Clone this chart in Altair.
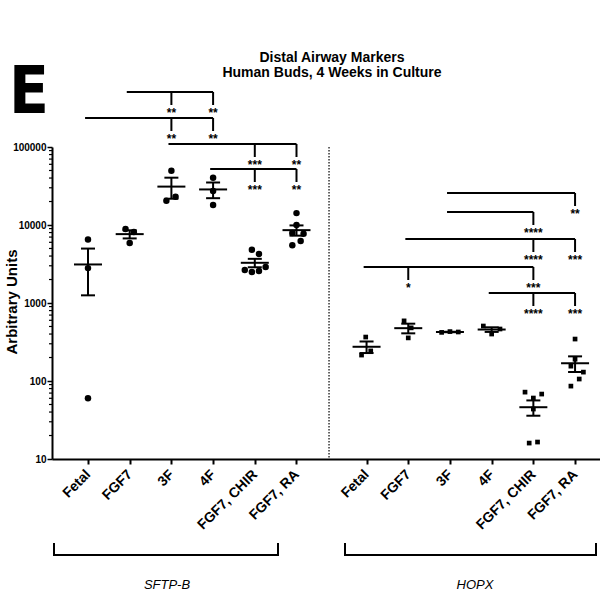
import altair as alt
import pandas as pd

# ---------------- data ----------------
CATEGORIES = ["Fetal", "FGF7", "3F", "4F", "FGF7, CHIR", "FGF7, RA"]
PANELS = ["SFTP-B", "HOPX"]
TITLE_LINES = ["Distal Airway Markers", "Human Buds, 4 Weeks in Culture"]
PANEL_LETTER = "E"
Y_TITLE = "Arbitrary Units"
Y_TICKS = [10, 100, 1000, 10000, 100000]

SFTPB_VALUES = [
    [6500, 2800, 60],
    [8900, 8150, 5870],
    [49700, 20400, 23100],
    [40400, 27300, 18000],
    [4800, 4260, 2890, 2640, 2500, 2570],
    [14200, 10000, 7900, 7700, 6240, 5500],
]
SFTPB_JITTER = [
    [0, 0, 0],
    [-0.1, 0.1, 0],
    [0, -0.12, 0.1],
    [0, 0, 0],
    [-0.07, 0.1, 0.26, -0.24, -0.07, 0.1],
    [0, 0, -0.1, 0.17, 0.1, -0.1],
]
HOPX_VALUES = [
    [366, 243, 215],
    [590, 480, 357],
    [420, 430, 425],
    [507, 400, 464],
    [72, 68, 60.5, 43.7, 16, 16.5],
    [345, 190, 155, 130, 106, 86],
]
HOPX_JITTER = [
    [-0.02, 0.1, -0.12],
    [-0.1, 0.07, 0],
    [-0.2, 0, 0.2],
    [-0.2, 0, 0.2],
    [-0.2, 0.2, 0, 0, -0.1, 0.1],
    [0, 0, -0.1, 0.2, 0.1, -0.1],
]

# significance brackets: panel, reference group, compared groups, labels
SIG_PANEL = ["SFTP-B", "SFTP-B", "SFTP-B", "SFTP-B", "HOPX", "HOPX", "HOPX", "HOPX", "HOPX"]
SIG_FROM = ["FGF7", "Fetal", "3F", "4F", "3F", "3F", "FGF7", "Fetal", "4F"]
SIG_TO = [
    ["3F", "4F"], ["3F", "4F"], ["FGF7, CHIR", "FGF7, RA"], ["FGF7, CHIR", "FGF7, RA"],
    ["FGF7, RA"], ["FGF7, CHIR"], ["FGF7, CHIR", "FGF7, RA"], ["FGF7", "FGF7, CHIR"],
    ["FGF7, CHIR", "FGF7, RA"],
]
SIG_LABELS = [
    ["**", "**"], ["**", "**"], ["***", "**"], ["***", "**"],
    ["**"], ["****"], ["****", "***"], ["*", "***"], ["****", "***"],
]

# ---------------- layout ----------------
W, H = 548, 312
PAD = {"left": 52, "top": 147, "right": 0, "bottom": 135}
GROUP_OFFSET = {"SFTP-B": 0.0, "HOPX": 6.68}
DIVIDER_X = 5.78
X_SCALE = alt.Scale(domain=[-0.863, 12.278], nice=False, zero=False)
Y_SCALE = alt.Scale(type="log", domain=[10, 100000], nice=False)
SIG_Y = [-55, -29, -3, 22, 46, 65, 92, 120, 146]  # px from plot top
DROP = 13
LABEL_DY = 25
FONT = "Liberation Sans"

# ---------------- tables ----------------
rows = []
for panel, vals, jits in [("SFTP-B", SFTPB_VALUES, SFTPB_JITTER), ("HOPX", HOPX_VALUES, HOPX_JITTER)]:
    for i, cat in enumerate(CATEGORIES):
        xc = GROUP_OFFSET[panel] + i
        for v, j in zip(vals[i], jits[i]):
            rows.append({"panel": panel, "cat": cat, "xc": xc, "xj": xc + j, "value": v})
df = pd.DataFrame(rows)

def xpos(panel, cat):
    return GROUP_OFFSET[panel] + CATEGORIES.index(cat)

hrows, drows, lrows = [], [], []
for k, panel in enumerate(SIG_PANEL):
    x0 = xpos(panel, SIG_FROM[k]) - 0.07
    xs = [xpos(panel, c) for c in SIG_TO[k]]
    hrows.append({"x": x0, "x2": max(xs), "y": SIG_Y[k]})
    for xx, lab in zip(xs, SIG_LABELS[k]):
        drows.append({"x": xx, "y": SIG_Y[k], "y2": SIG_Y[k] + DROP})
        lrows.append({"x": xx, "y": SIG_Y[k] + LABEL_DY, "t": lab})
hdf, ddf, ldf = pd.DataFrame(hrows), pd.DataFrame(drows), pd.DataFrame(lrows)

xvals = [xpos(p, c) for p in PANELS for c in CATEGORIES]
label_expr = "".join(
    f"abs(datum.value - {xpos(p, c)}) < 0.01 ? '{c}' : " for p in PANELS for c in CATEGORIES
) + "''"

minor = [m * 10 ** e for e in range(1, 5) for m in range(2, 10)]
mdf = pd.DataFrame({"v": minor})

# ---------------- layers ----------------
XN = lambda f: alt.X(f, scale=X_SCALE)
YN = lambda f: alt.Y(f, scale=Y_SCALE)
YPX = lambda f: alt.Y(f, scale=None)

points_l = alt.Chart(df).transform_filter("datum.panel == 'SFTP-B'").mark_circle(
    size=42, color="black", opacity=1
).encode(
    x=alt.X("xj:Q", scale=X_SCALE, axis=alt.Axis(
        values=xvals, labelExpr=label_expr, labelAngle=-45, labelAlign="right",
        labelBaseline="middle", labelFontSize=14, labelFontWeight="bold", labelColor="black",
        labelFont=FONT, tickSize=5, tickWidth=2, tickColor="black", domainColor="black",
        domainWidth=2, grid=False, title=None, labelPadding=8, labelOverlap=False,
        labelFlush=False, labelBound=False)),
    y=alt.Y("value:Q", scale=Y_SCALE, axis=alt.Axis(
        values=Y_TICKS, format="d", labelFontSize=10, labelFontWeight="bold", labelColor="black",
        labelFont=FONT, tickSize=5, tickWidth=1.5, tickColor="black", domainColor="black",
        domainWidth=2, grid=False, title=None, labelPadding=1, labelOverlap=False,
        labelFlush=False)),
)

points_r = alt.Chart(df).transform_filter("datum.panel == 'HOPX'").mark_square(
    size=22, color="black", opacity=1
).encode(x=XN("xj:Q"), y=YN("value:Q"))

stats = alt.Chart(df).transform_aggregate(
    m="mean(value)", se="stderr(value)", groupby=["panel", "xc"]
).transform_calculate(lo="datum.m - datum.se", hi="datum.m + datum.se")

err = stats.mark_rule(color="black", strokeWidth=2, opacity=1).encode(x=XN("xc:Q"), y=YN("lo:Q"), y2="hi:Q")
cap_lo = stats.mark_tick(color="black", orient="horizontal", size=14, thickness=2, opacity=1).encode(
    x=XN("xc:Q"), y=YN("lo:Q"))
cap_hi = stats.mark_tick(color="black", orient="horizontal", size=14, thickness=2, opacity=1).encode(
    x=XN("xc:Q"), y=YN("hi:Q"))
mean_t = stats.mark_tick(color="black", orient="horizontal", size=28, thickness=2, opacity=1).encode(
    x=XN("xc:Q"), y=YN("m:Q"))

minor_ticks = alt.Chart(mdf).mark_rule(color="black", strokeWidth=1.2).encode(
    y=YN("v:Q"), x=alt.value(-3), x2=alt.value(0)
)

divider = alt.Chart(pd.DataFrame({"x": [DIVIDER_X]})).mark_rule(
    color="black", strokeWidth=1.2, strokeDash=[1.5, 1.5]
).encode(x=XN("x:Q"), y=alt.value(0), y2=alt.value(H))

sig_h = alt.Chart(hdf).mark_rule(color="black", strokeWidth=2).encode(x=XN("x:Q"), x2="x2:Q", y=YPX("y:Q"))
sig_d = alt.Chart(ddf).mark_rule(color="black", strokeWidth=2).encode(x=XN("x:Q"), y=YPX("y:Q"), y2="y2:Q")
sig_t = alt.Chart(ldf).mark_text(
    font=FONT, fontSize=12, fontWeight="bold", color="black", baseline="alphabetic", align="center"
).encode(x=XN("x:Q"), y=YPX("y:Q"), text="t:N")

def text_layer(s, x, y, **kw):
    return alt.Chart(pd.DataFrame({"t": [s]})).mark_text(color="black", **kw).encode(
        text="t:N", x=alt.value(x), y=alt.value(y))

title1 = text_layer(TITLE_LINES[0], 280, -89, font=FONT, fontSize=14, fontWeight="bold", baseline="middle")
title2 = text_layer(TITLE_LINES[1], 280, -74, font=FONT, fontSize=14, fontWeight="bold", baseline="middle")
letter = text_layer(PANEL_LETTER, -43, -34, font="DejaVu Sans Condensed, Liberation Sans Narrow, Liberation Sans",
                    fontSize=65, fontWeight="bold", align="left", baseline="alphabetic")
ytitle = text_layer(Y_TITLE, -40, 155, font=FONT, fontSize=15, fontWeight="bold", angle=270,
                    baseline="middle", align="center")

# group brackets under the axis
grp = pd.DataFrame({"x": [2, 293], "x2": [226, 544], "label": PANELS, "lx": [115, 423]})
g_h = alt.Chart(grp).mark_rule(color="black", strokeWidth=2).encode(
    x=alt.X("x:Q", scale=None), x2="x2:Q", y=alt.value(408))
g_l = alt.Chart(grp).mark_rule(color="black", strokeWidth=2).encode(
    x=alt.X("x:Q", scale=None), y=alt.value(396), y2=alt.value(409))
g_r = alt.Chart(grp).mark_rule(color="black", strokeWidth=2).encode(
    x=alt.X("x2:Q", scale=None), y=alt.value(396), y2=alt.value(409))
g_t = alt.Chart(grp).mark_text(font=FONT, fontSize=13, fontStyle="italic", color="black",
                               baseline="middle").encode(
    x=alt.X("lx:Q", scale=None), y=alt.value(438), text="label:N")

chart = alt.layer(
    points_l, points_r, err, cap_lo, cap_hi, mean_t, minor_ticks, divider,
    sig_h, sig_d, sig_t, title1, title2, letter, ytitle, g_h, g_l, g_r, g_t,
).properties(
    width=W, height=H, autosize=alt.AutoSizeParams(type="none"), padding=PAD,
    background="white",
).configure_view(stroke=None)

chart.save("out.html", embed_options={"renderer": "svg", "actions": False})
